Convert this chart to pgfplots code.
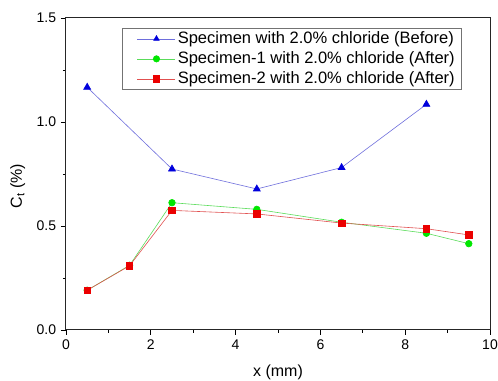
\documentclass[border=0pt]{standalone}
\usepackage{pgfplots}
\pgfplotsset{compat=1.18}
\usepackage{fontspec}
\setmainfont{Liberation Sans}
\usetikzlibrary{calc}
\definecolor{cblue}{RGB}{0,0,220}
\definecolor{lblue}{RGB}{110,110,220}
\definecolor{cgreen}{RGB}{0,230,0}
\definecolor{lgreen}{RGB}{90,220,90}
\definecolor{cred}{RGB}{235,0,0}
\definecolor{lred}{RGB}{225,80,80}
\begin{document}
\fontsize{14}{16}\selectfont
\begin{tikzpicture}
\begin{axis}[
  scale only axis, width=424pt, height=312pt,
  xmin=0, xmax=10, ymin=0, ymax=1.5,
  xtick={0,2,4,6,8,10}, ytick={0,0.5,1,1.5},
  minor tick num=1,
  tick pos=left, tick align=outside,
  major tick length=5pt, minor tick length=3pt,
  every tick/.style={black, line width=0.9pt},
  axis line style={line width=1pt, black!85},
  /pgf/number format/assume math mode=true,
  yticklabel style={/pgf/number format/.cd, fixed, fixed zerofill, precision=1},
  xticklabel style={/pgf/number format/.cd, fixed, precision=0},
  ticklabel style={font=\fontsize{14}{16}\selectfont},
  xlabel={x (mm)}, ylabel={C\textsubscript{t} (\%)},
  label style={font=\fontsize{16}{18}\selectfont},
  xlabel style={yshift=-6pt},
  ylabel style={yshift=2pt, xshift=-12pt},
  legend style={at={(0.934,0.968)}, anchor=north east, draw=black!55, line width=0.6pt,
    font=\fontsize{16.5}{18}\selectfont, inner xsep=5pt, inner ysep=1.5pt, row sep=2pt, cells={anchor=west}},
  legend image code/.code={\path (-10pt,0pt); \draw[#1] (0pt,0pt) -- (38pt,0pt); \draw[#1, mark size=3.2pt, mark repeat=2, mark phase=2] plot coordinates {(0pt,0pt) (19pt,0pt) (38pt,0pt)};},
]
\addplot[lblue, line width=0.6pt, mark=triangle*, mark size=4pt, mark options={cblue, fill=cblue, solid}]
  coordinates {(0.5,1.167) (2.5,0.774) (4.5,0.678) (6.5,0.781) (8.5,1.085)};
\addlegendentry{Specimen with 2.0\% chloride (Before)}
\addplot[lgreen, line width=0.6pt, mark=*, mark size=3.3pt, mark options={cgreen, fill=cgreen, solid}]
  coordinates {(0.5,0.191) (1.5,0.311) (2.5,0.612) (4.5,0.580) (6.5,0.518) (8.5,0.465) (9.5,0.415)};
\addlegendentry{Specimen-1 with 2.0\% chloride (After)}
\addplot[lred, line width=0.6pt, mark=square*, mark size=3.2pt, mark options={cred, fill=cred, solid}]
  coordinates {(0.5,0.191) (1.5,0.309) (2.5,0.575) (4.5,0.558) (6.5,0.514) (8.5,0.487) (9.5,0.457)};
\addlegendentry{Specimen-2 with 2.0\% chloride (After)}
\end{axis}
\pgfresetboundingbox
\path ($(current axis.south west)+(-66pt,-51pt)$) rectangle ($(current axis.north east)+(8pt,18pt)$);
\end{tikzpicture}
\end{document}
